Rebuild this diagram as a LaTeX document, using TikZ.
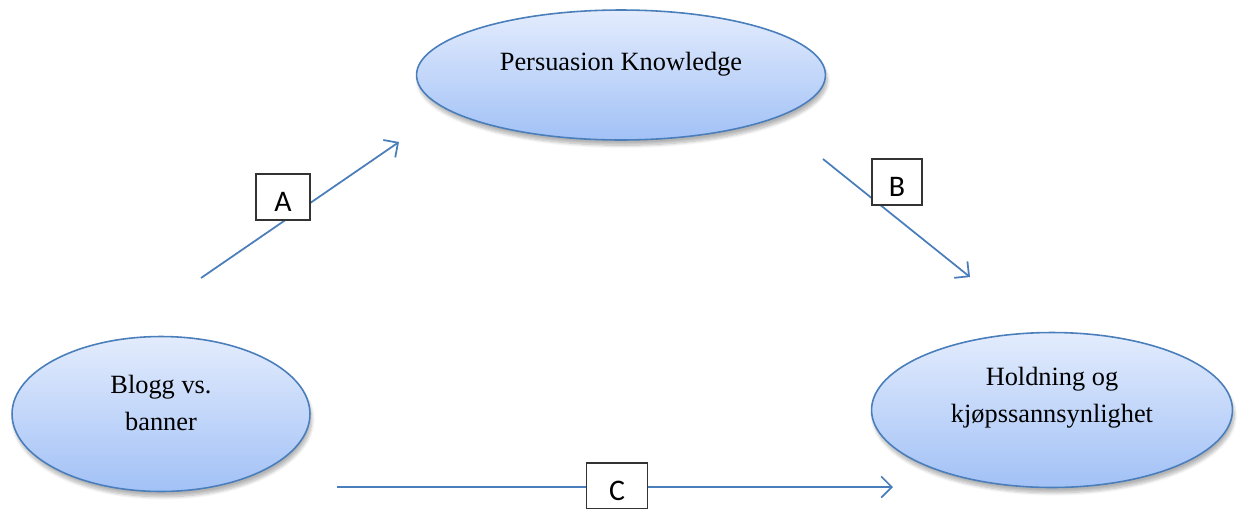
\documentclass[tikz,border=0pt]{standalone}
\usepackage{fontspec}
\setmainfont{Liberation Serif}
\newfontfamily\tagfont{Carlito}
\usetikzlibrary{shapes.geometric,arrows.meta,shadows.blur}
\definecolor{ovalline}{HTML}{4A7EBB}
\definecolor{ovaltop}{HTML}{E3ECFD}
\definecolor{ovalbot}{HTML}{A2C1F6}
\definecolor{linkblue}{HTML}{4A7EBB}
\tikzset{
	oval/.style={ellipse,draw=ovalline,line width=0.9pt,top color=ovaltop,bottom color=ovalbot,
		blur shadow={shadow xshift=1pt,shadow yshift=-3pt,shadow opacity=30,shadow blur steps=8},
		font=\fontsize{15}{21}\selectfont,align=center,inner sep=0pt},
	tagbox/.style={draw=black!80,line width=0.9pt,fill=white,font=\fontsize{17}{20}\tagfont,
		minimum width=1.08cm,minimum height=0.92cm,inner sep=0pt,text height=16pt,text depth=0pt},
	link/.style={draw=linkblue,line width=1pt,-{Straight Barb[length=6pt,width=12pt]}}
}
\begin{document}
\begin{tikzpicture}[x=0.02cm,y=-0.02cm]
			\clip (0,0) rectangle (1238,508);
			% the three constructs
			\node[oval,minimum width=8.18cm,minimum height=2.6cm,text depth=15pt] (pk) at (621,75) {Persuasion Knowledge};
			\node[oval,minimum width=5.96cm,minimum height=3.1cm,text depth=13pt] (blogg) at (161,414) {Blogg vs.\\banner};
			\node[oval,minimum width=7.22cm,minimum height=3.1cm,text depth=17pt] (attitude) at (1052,410) {Holdning og\\kjøpssannsynlighet};
			% loose arrow ends
			\coordinate (a1) at (201,278);
			\coordinate (a2) at (399,142);
			\coordinate (b1) at (823,159);
			\coordinate (b2) at (970,277);
			\coordinate (c1) at (337,487);
			\coordinate (c2) at (893,487);
			\foreach \from/\to in {a1/a2,b1/b2,c1/c2}
				\draw[link] (\from) -- (\to);
			% path labels
			\node[tagbox] (tagA) at (283,197) {A};
			\node[tagbox,minimum width=1cm] (tagB) at (897,182) {B};
			\node[tagbox,minimum width=1.22cm] (tagC) at (617,486) {C};
\end{tikzpicture}
\end{document}
